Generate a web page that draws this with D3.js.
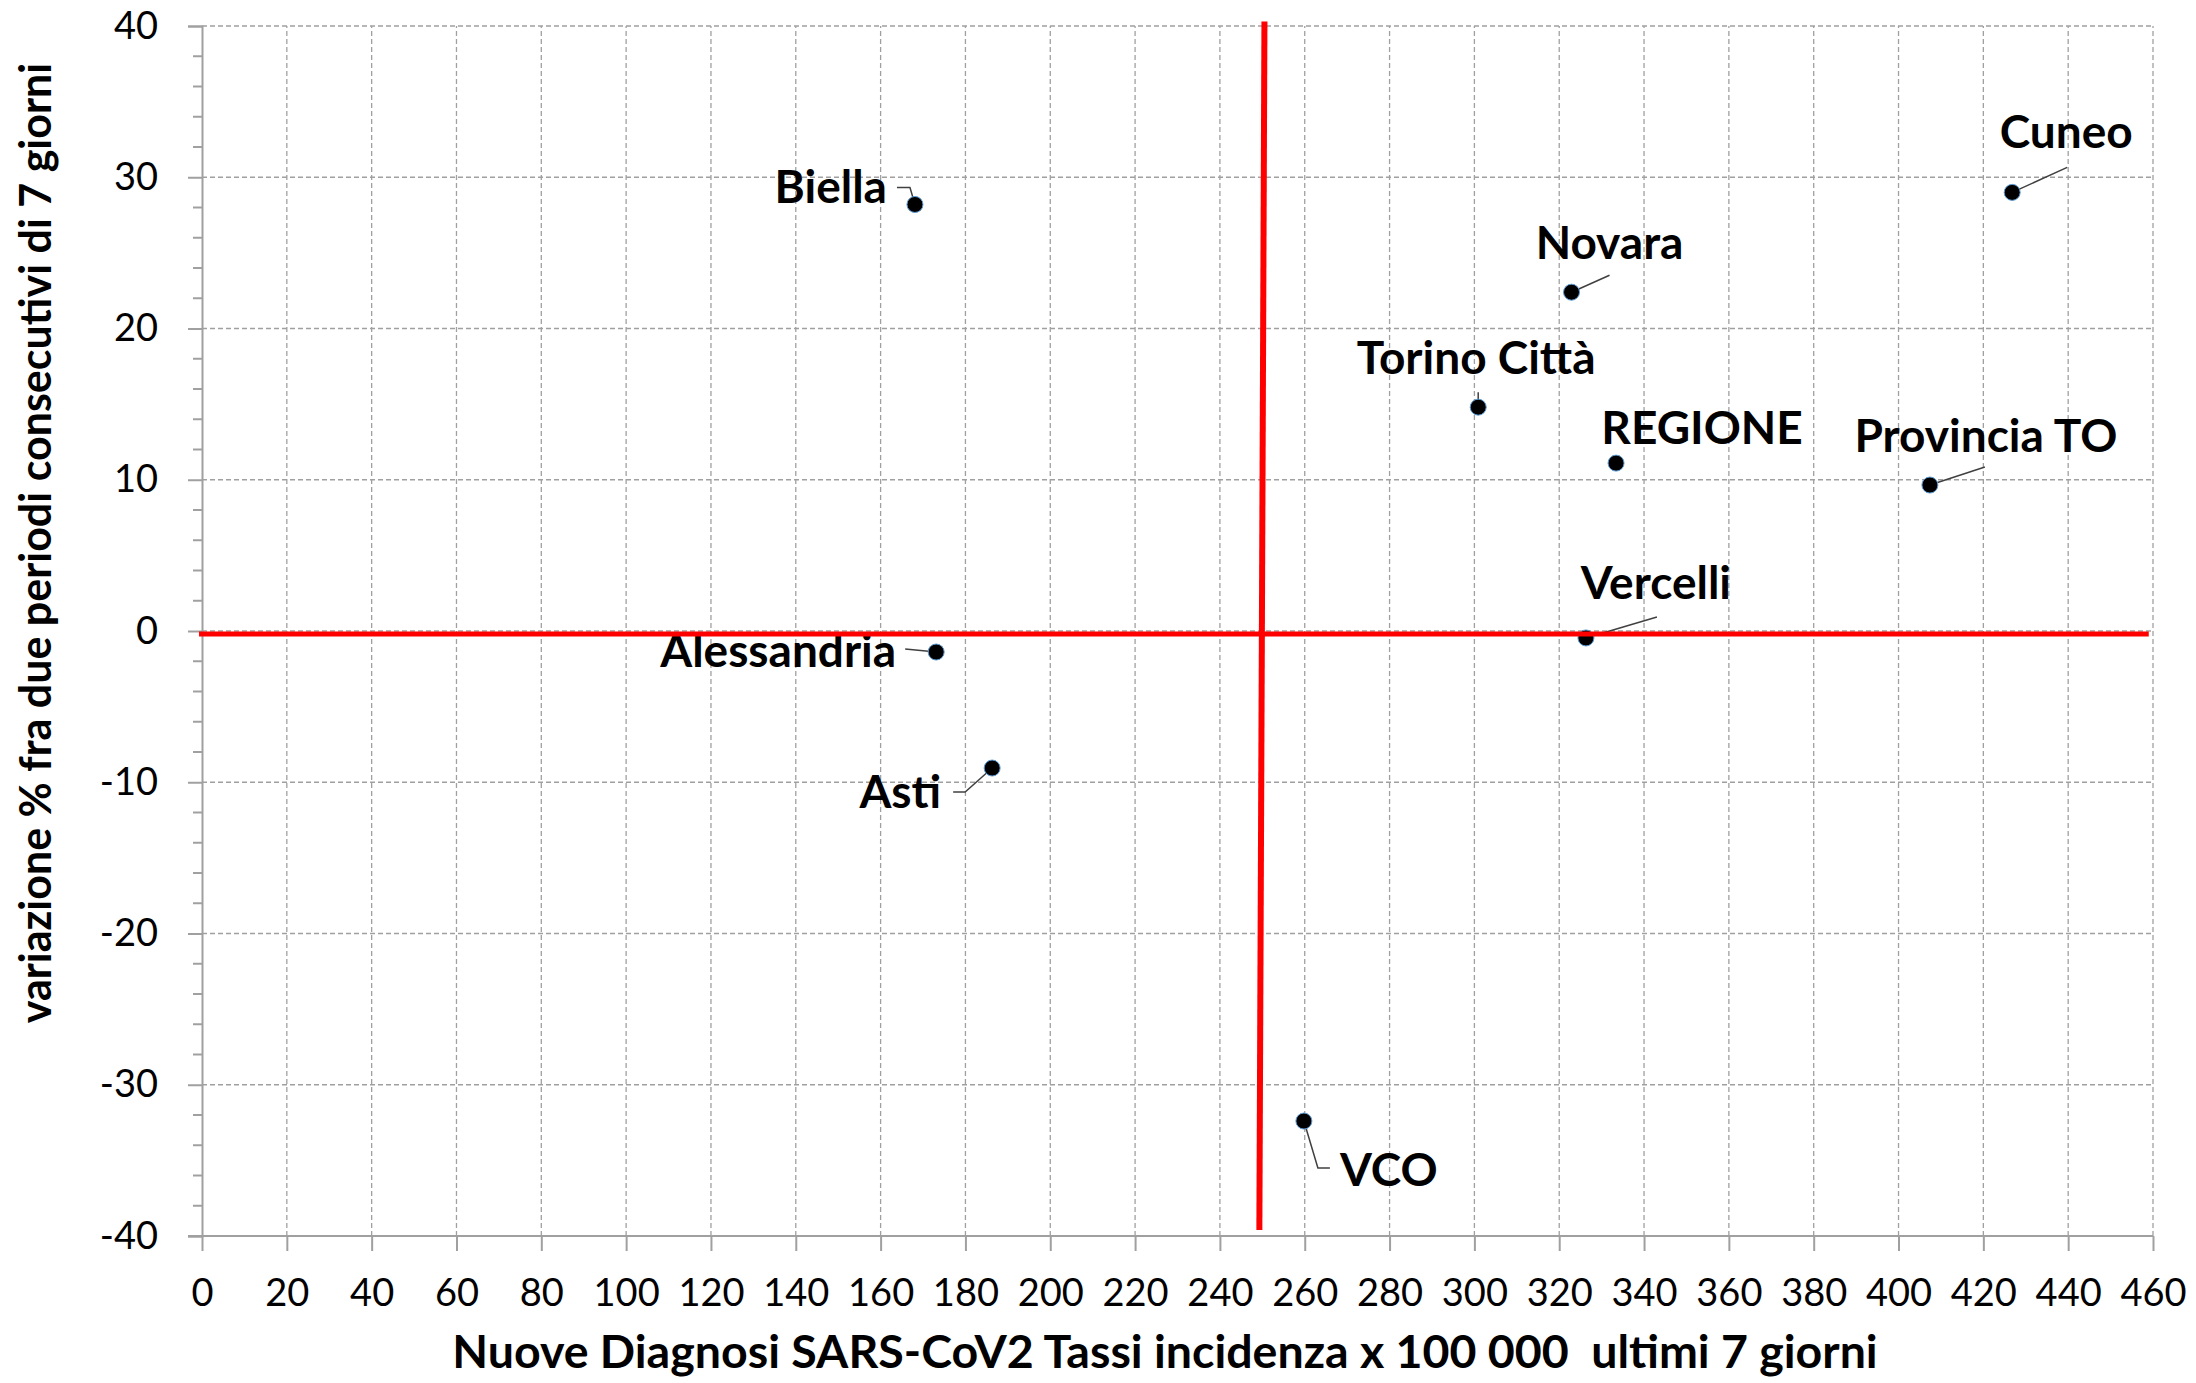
<!DOCTYPE html>
<html>
<head>
<meta charset="utf-8">
<script src="https://cdn.jsdelivr.net/npm/d3@7"></script>
<style>
  body { margin: 0; background: #fff; }
  svg text { font-family: Lato, "Open Sans", sans-serif; fill: #000; }
</style>
</head>
<body>
<div id="chart"></div>
<script>
// Province piemontesi: incidenza ultimi 7 giorni vs variazione %
const regions = ['Biella', 'Cuneo', 'Novara', 'Torino Città', 'REGIONE', 'Provincia TO', 'Vercelli', 'Alessandria', 'Asti', 'VCO']
const incidenza = [168.1, 426.8, 322.9, 300.9, 333.4, 407.4, 326.3, 173.1, 186.3, 259.8]
const variazione = [28.2, 29.0, 22.4, 14.8, 11.1, 9.65, -0.46, -1.39, -9.06, -32.4]

const xTicks = [0, 20, 40, 60, 80, 100, 120, 140, 160, 180, 200, 220, 240, 260, 280, 300, 320, 340, 360, 380, 400, 420, 440, 460]
const yTicks = [-40, -30, -20, -10, 0, 10, 20, 30, 40]
const yMinorTicks = [-38, -36, -34, -32, -28, -26, -24, -22, -18, -16, -14, -12, -8, -6, -4, -2,
                     2, 4, 6, 8, 12, 14, 16, 18, 22, 24, 26, 28, 32, 34, 36, 38]

// red quadrant lines (hand drawn in the original, slightly off)
const soglia = [[250.5, 40.3], [249.3, -39.6]]
const zeroLine = [[-0.7, -0.2], [459, -0.2]]

const xTitle = 'Nuove Diagnosi SARS-CoV2 Tassi incidenza x 100 000  ultimi 7 giorni'
const yTitle = 'variazione % fra due periodi consecutivi di 7 giorni'

const w = 2196
const h = 1383
const margin = { top: 26, right: 43, bottom: 147, left: 202 }

const xScale = d3.scaleLinear().domain([0, 460]).range([margin.left, w - margin.right])
const yScale = d3.scaleLinear().domain([-40, 40]).range([h - margin.bottom, margin.top])

const svg = d3.select('#chart').append('svg')
  .attr('width', w)
  .attr('height', h)

// grid
svg.append('g')
  .selectAll('line')
  .data(xTicks.slice(1))
  .join('line')
    .attr('x1', d => xScale(d)).attr('x2', d => xScale(d))
    .attr('y1', yScale(-40)).attr('y2', yScale(40))
    .attr('stroke', '#a0a0a0').attr('stroke-width', 1.3)
    .attr('stroke-dasharray', '5,3')
svg.append('g')
  .selectAll('line')
  .data(yTicks.slice(1))
  .join('line')
    .attr('x1', xScale(0)).attr('x2', xScale(460))
    .attr('y1', d => yScale(d)).attr('y2', d => yScale(d))
    .attr('stroke', '#a0a0a0').attr('stroke-width', 1.3)
    .attr('stroke-dasharray', '5,3')

// y axis (plain hyphen for negatives, like the original)
const yAxis = d3.axisLeft(yScale).tickValues(yTicks).tickFormat(d => String(d)).tickSize(14).tickPadding(30)
const gy = svg.append('g')
  .attr('transform', `translate(${margin.left}, 0)`)
  .call(yAxis)
gy.append('g')
  .selectAll('line')
  .data(yMinorTicks)
  .join('line')
    .attr('x1', -9).attr('x2', 0)
    .attr('y1', d => yScale(d)).attr('y2', d => yScale(d))
    .attr('stroke', '#a0a0a0').attr('stroke-width', 2)

// x axis
const xAxis = d3.axisBottom(xScale).tickValues(xTicks).tickFormat(d => String(d)).tickSize(15).tickPadding(28)
const gx = svg.append('g')
  .attr('transform', `translate(0, ${h - margin.bottom})`)
  .call(xAxis)

svg.selectAll('.domain, .tick line')
  .attr('stroke', '#a0a0a0')
  .attr('stroke-width', 2)
svg.selectAll('.tick text')
  .style('font-family', 'Lato, sans-serif')
  .style('font-size', '38px')
  .attr('fill', '#000')
gx.select('.domain').attr('d', `M${xScale(0) - 14},0H${xScale(460)}`)

// axis titles
svg.append('text')
  .attr('x', 1165)
  .attr('y', 1368)
  .attr('text-anchor', 'middle')
  .style('font-size', '46.5px')
  .style('font-weight', 'bold')
  .style('white-space', 'pre')
  .text(xTitle)

svg.append('text')
  .attr('transform', 'translate(51, 543) rotate(-90)')
  .attr('text-anchor', 'middle')
  .style('font-size', '43px')
  .style('font-weight', 'bold')
  .text(yTitle)

// label placement relative to each point (px): text anchor, baseline, leader line
const placement = {
  'Biella':       { dx: -28, dy: -1,  anchor: 'end',    leader: [[0, 0], [-5, -17], [-18, -17]] },
  'Cuneo':        { dx: 54,  dy: -44, anchor: 'middle', leader: [[0, 0], [55, -25]] },
  'Novara':       { dx: 38,  dy: -33, anchor: 'middle', leader: [[0, 0], [38, -17]] },
  'Torino Città': { dx: -2,  dy: -33, anchor: 'middle', leader: [[0, 0], [0, -15]] },
  'REGIONE':      { dx: 86,  dy: -19, anchor: 'middle', leader: null },
  'Provincia TO': { dx: 56,  dy: -33, anchor: 'middle', leader: [[0, 0], [55, -18]] },
  'Vercelli':     { dx: 70,  dy: -39, anchor: 'middle', leader: [[0, 0], [71, -21]] },
  'Alessandria':  { dx: -40, dy: 15,  anchor: 'end',    leader: [[0, 0], [-31, -3]] },
  'Asti':         { dx: -51, dy: 40,  anchor: 'end',    leader: [[0, 0], [-27, 24], [-39, 24]] },
  'VCO':          { dx: 36,  dy: 65,  anchor: 'start',  leader: [[0, 0], [14, 47], [26, 47]] }
}

const points = regions.map((r, i) => ({ name: r, x: incidenza[i], y: variazione[i] }))

// leader lines
svg.append('g')
  .selectAll('path')
  .data(points.filter(d => placement[d.name].leader))
  .join('path')
    .attr('d', d => d3.line()(placement[d.name].leader.map(p => [xScale(d.x) + p[0], yScale(d.y) + p[1]])))
    .attr('fill', 'none')
    .attr('stroke', '#404040')
    .attr('stroke-width', 1.5)

// markers
svg.append('g')
  .selectAll('circle')
  .data(points)
  .join('circle')
    .attr('cx', d => xScale(d.x))
    .attr('cy', d => yScale(d.y))
    .attr('r', 8)
    .attr('fill', '#000')
    .attr('stroke', '#5b9bd5')
    .attr('stroke-width', 1)

// labels
svg.append('g')
  .selectAll('text')
  .data(points)
  .join('text')
    .attr('x', d => xScale(d.x) + placement[d.name].dx)
    .attr('y', d => yScale(d.y) + placement[d.name].dy)
    .attr('text-anchor', d => placement[d.name].anchor)
    .style('font-size', '46px')
    .style('font-weight', 'bold')
    .text(d => d.name)

// red reference lines
const line = d3.line().x(d => xScale(d[0])).y(d => yScale(d[1]))
svg.append('path')
  .attr('d', line(soglia))
  .attr('stroke', '#ff0000').attr('stroke-width', 6).attr('fill', 'none')
svg.append('path')
  .attr('d', line(zeroLine))
  .attr('stroke', '#ff0000').attr('stroke-width', 5).attr('fill', 'none')
</script>
</body>
</html>
